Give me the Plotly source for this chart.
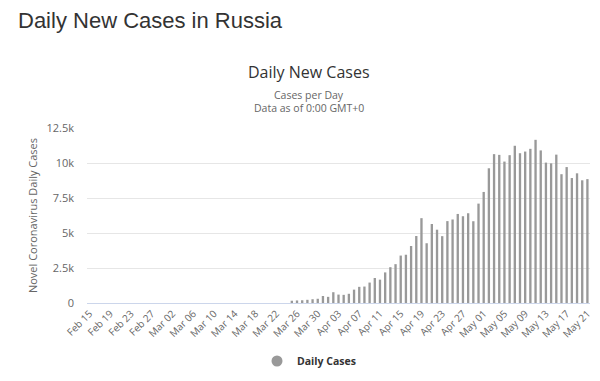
import pandas as pd
import plotly.graph_objects as go

dates = pd.date_range("2020-02-15", "2020-05-21", freq="D")

feb_cases = [0] * 15
mar_cases = [0, 0, 0, 0, 0, 0, 0, 0, 0, 0, 0, 0, 0, 0, 0, 0, 0, 0, 0, 0,
             0, 0, 0, 0, 163, 182, 196, 228, 270, 302, 501]
apr_cases = [440, 771, 601, 582, 658, 954, 1154, 1175, 1459, 1786, 1667, 2186,
             2558, 2774, 3388, 3448, 4070, 4785, 6060, 4268, 5642, 5236, 4774,
             5849, 5966, 6361, 6198, 6411, 5841, 7099]
may_cases = [7933, 9623, 10633, 10581, 10102, 10559, 11231, 10699, 10817, 11012,
             11656, 10899, 10028, 9974, 10598, 9200, 9709, 8926, 9263, 8764, 8849]
daily_cases = feb_cases + mar_cases + apr_cases + may_cases

y_tickvals = [0, 2500, 5000, 7500, 10000, 12500]
y_ticktext = ["0", "2.5k", "5k", "7.5k", "10k", "12.5k"]

BAR = "#999999"
FONT = "Open Sans, Noto Sans, sans-serif"

fig = go.Figure()
fig.add_trace(go.Bar(x=dates, y=daily_cases, marker_color=BAR, marker_line_width=0,
                     name="Daily Cases", showlegend=False, hoverinfo="x+y"))
fig.add_trace(go.Scatter(x=[None], y=[None], mode="markers",
                         marker=dict(symbol="circle", size=11, color=BAR),
                         name="<b>Daily Cases</b>", showlegend=True))

L, R, T, B = 87, 10, 128, 78
W, H = 600, 381
pw, ph = W - L - R, H - T - B

def px(x):
    return (x - L) / pw

def py(y):
    return (H - B - y) / ph

fig.update_layout(
    width=W, height=H,
    margin=dict(l=L, r=R, t=T, b=B, pad=0, autoexpand=False),
    paper_bgcolor="white", plot_bgcolor="white",
    font=dict(family=FONT, color="#666666", size=11),
    bargap=0.55,
    title=dict(text="Daily New Cases in Russia", xref="container", yref="container",
               x=18 / W, xanchor="left", y=1 - 20 / H, yanchor="middle",
               pad=dict(l=0, r=0, t=0, b=0),
               font=dict(family="Liberation Sans, Arial, sans-serif", size=22, color="#333333")),
    showlegend=True,
    legend=dict(orientation="h", x=px(309), xanchor="center", y=py(361), yanchor="middle",
                font=dict(family=FONT, size=10.5, color="#333333"), itemclick=False),
    annotations=[
        dict(text="Daily New Cases", xref="paper", yref="paper", x=px(309), y=py(72),
             xanchor="center", yanchor="middle", showarrow=False,
             font=dict(family=FONT, size=16, color="#333333")),
        dict(text="Cases per Day", xref="paper", yref="paper", x=px(309), y=py(95),
             xanchor="center", yanchor="middle", showarrow=False,
             font=dict(family=FONT, size=10.5, color="#666666")),
        dict(text="Data as of 0:00 GMT+0", xref="paper", yref="paper", x=px(309), y=py(108),
             xanchor="center", yanchor="middle", showarrow=False,
             font=dict(family=FONT, size=10.5, color="#666666")),
    ],
)

fig.update_xaxes(
    type="date", automargin=False,
    range=["2020-02-14 12:00", "2020-05-21 12:00"],
    tick0="2020-02-15", dtick=4 * 86400000, tickformat="%b %d",
    tickangle=-45, tickfont=dict(size=10, color="#666666"),
    showgrid=False, showline=True, linecolor="#ccd6eb", linewidth=1,
    ticks="", zeroline=False,
)
fig.update_yaxes(
    automargin=False,
    range=[0, 12500], tickvals=y_tickvals, ticktext=y_ticktext,
    tickfont=dict(size=11, color="#666666"),
    showgrid=True, gridcolor="#e6e6e6", gridwidth=1, zeroline=False,
    ticklabelstandoff=12,
    title=dict(text="Novel Coronavirus Daily Cases", standoff=6,
               font=dict(size=11, color="#666666")),
)

fig.write_html("out.html", config={"displayModeBar": False},
               post_script="document.body.style.margin='0px';document.body.style.overflow='hidden';")
